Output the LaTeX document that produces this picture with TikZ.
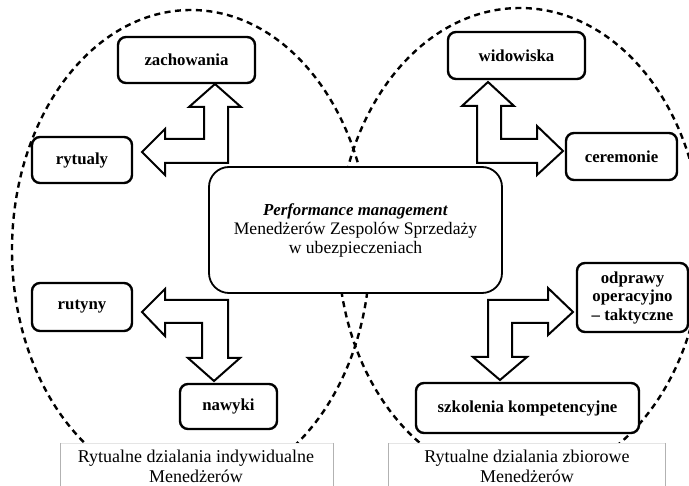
\documentclass[tikz,border=0pt]{standalone}
\usepackage{fontspec}
\setmainfont{Liberation Serif}
\begin{document}
\begin{tikzpicture}[x=1pt, y=-1pt,
  grp/.style={line width=2.4pt, dash pattern=on 6pt off 4.5pt},
  item/.style={draw, line width=2.4pt, rounded corners=8pt, fill=white,
    font=\bfseries\fontsize{16.8}{18.5}\selectfont, align=center, inner sep=0pt},
  core/.style={draw, line width=1.8pt, rounded corners=20pt, fill=white,
    font=\fontsize{17.6}{19}\selectfont, align=center, inner sep=0pt},
  blockarrow/.style={draw, line width=2pt, fill=white, line join=miter},
  capside/.style={draw=gray!60, line width=1pt},
  captop/.style={draw=gray!20, line width=0.8pt},
  captext/.style={font=\fontsize{18}{20}\selectfont, align=center}]

\useasboundingbox (0,0) rectangle (689,486);

% the two groups of rituals
\draw[grp] (191,250) ellipse [x radius=179, y radius=240];
\draw[grp] (520,245) ellipse [x radius=182, y radius=237];

% group captions: white panels over the lower ends of the groups
\fill[white] (60,443) rectangle (333,490);
\fill[white] (388,443) rectangle (665,490);
\draw[captop] (60,443) -- (333,443);
\draw[captop] (388,443) -- (665,443);
\draw[capside] (60,443) -- (60,490) (333,443) -- (333,490);
\draw[capside] (388,443) -- (388,490) (665,443) -- (665,490);
\node[captext] (capL) at (196,466) {Rytualne dzialania indywidualne\\Menedżerów};
\node[captext] (capR) at (527,466) {Rytualne dzialania zbiorowe\\Menedżerów};

% central box
\node[core, minimum width=293pt, minimum height=126pt] (pm) at (355.5,230)
  {{\fontsize{16.8}{19}\selectfont\textbf{\textit{Performance management}}}\\Menedżerów\ Zespolów Sprzedaży\\w ubezpieczeniach};

% individual rituals
\node[item, minimum width=137pt, minimum height=46pt] (zach) at (186.5,60) {zachowania};
\node[item, minimum width=100pt, minimum height=46pt] (ryt) at (82,160) {rytualy};
\node[item, minimum width=100pt, minimum height=48pt] (rut) at (82,307) {rutyny};
\node[item, minimum width=97pt, minimum height=45pt] (naw) at (228.5,406.5) {nawyki};

% collective rituals
\node[item, minimum width=137pt, minimum height=47pt] (wid) at (516.5,55.5) {widowiska};
\node[item, minimum width=111pt, minimum height=47pt] (cer) at (621.5,156.5) {ceremonie};
\node[item, minimum width=111pt, minimum height=69pt] (odp) at (632.5,297.5)
  {odprawy\\operacyjno\\– taktyczne};
\node[item, minimum width=223pt, minimum height=50pt] (szk) at (527.5,408) {szkolenia kompetencyjne};

% block arrows linking the rituals
\draw[blockarrow] (142,152) -- (165,129) -- (165,139) -- (204,139) -- (204,107)
  -- (189,107) -- (215,84) -- (241,107) -- (228,107) -- (228,163) -- (165,163)
  -- (165,175) -- cycle;
\draw[blockarrow] (488,82) -- (514,106) -- (501,106) -- (501,139) -- (537,139)
  -- (537,126) -- (563,151) -- (537,175) -- (537,163) -- (477,163) -- (477,106)
  -- (462,106) -- cycle;
\draw[blockarrow] (142,312) -- (165,289) -- (165,300) -- (228,300) -- (228,358)
  -- (240,358) -- (214,381) -- (188,358) -- (202,358) -- (202,323) -- (165,323)
  -- (165,336) -- cycle;
\draw[blockarrow] (573,312) -- (548,288) -- (548,300) -- (488,300) -- (488,357)
  -- (473,357) -- (500,380) -- (527,357) -- (512,357) -- (512,323) -- (548,323)
  -- (548,335) -- cycle;
\end{tikzpicture}
\end{document}
